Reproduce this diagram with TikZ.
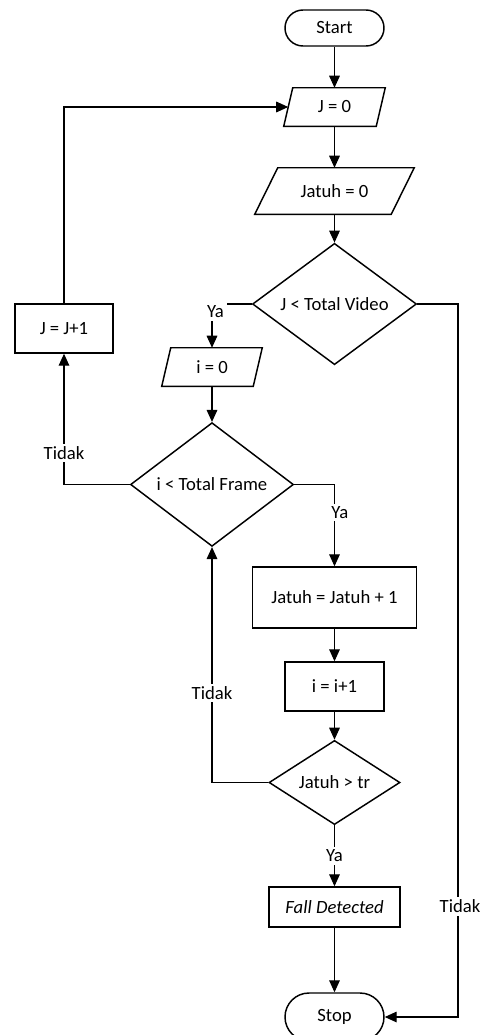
\documentclass[tikz,border=0pt]{standalone}
\usepackage{fontspec}
\setmainfont{Carlito}
\usetikzlibrary{arrows.meta,shapes.geometric}

\begin{document}
\begin{tikzpicture}[
    x=0.75pt, y=-0.75pt,
    font=\fontsize{14}{16}\selectfont,
    arrow/.style={line width=0.8pt,-{Triangle[length=9pt,width=8pt]}},
    outline/.style={draw, line width=1.1pt},
    term/.style={outline, rounded corners=13.5pt, minimum width=74.25pt,
      minimum height=27pt, inner sep=0pt},
    proc/.style={outline, inner sep=0pt},
    io/.style={inner sep=0pt},
    decision/.style={diamond, outline, inner sep=0pt},
    lab/.style={fill=white, inner sep=2pt}
  ]

  \useasboundingbox (0,0) rectangle (485,1035);

  % Column centers
  \def\xMain{334.5}
  \def\xInner{212}
  \def\xLeft{64}
  \def\xRight{458}

  % Row anchors
  \def\yStart{28}
  \def\yJ{107}
  \def\yJatuh{191}
  \def\yVideo{304}
  \def\yJinc{328.5}
  \def\yI{367}
  \def\yFrame{484.5}
  \def\yInc{597.5}
  \def\yIinc{686.5}
  \def\yThr{782.5}
  \def\yFall{907}
  \def\yStop{1017}

  % =====================================================
  % NODES
  % =====================================================
  \node[term] (start) at (\xMain,\yStart) {Start};

  \node[io, minimum width=69pt, minimum height=28.5pt] (J0) at (\xMain,\yJ) {J = 0};
  \node[io, minimum width=102pt, minimum height=34.5pt] (jatuh0) at (\xMain,\yJatuh) {Jatuh = 0};

  \node[decision, minimum width=123pt, minimum height=73.5pt] (vid) at (\xMain,\yVideo) {J < Total Video};

  \node[proc, minimum width=73.5pt, minimum height=36.75pt] (jinc) at (\xLeft,\yJinc) {J = J+1};

  \node[io, minimum width=68.25pt, minimum height=28.5pt] (i0) at (\xInner,\yI) {i = 0};

  \node[decision, minimum width=122.25pt, minimum height=72.75pt] (frame) at (\xInner,\yFrame) {i < Total Frame};

  \node[proc, minimum width=123pt, minimum height=45.75pt] (inc) at (\xMain,\yInc) {Jatuh = Jatuh + 1};
  \node[proc, minimum width=74.25pt, minimum height=36.75pt] (iinc) at (\xMain,\yIinc) {i = i+1};

  \node[decision, minimum width=98.25pt, minimum height=57.75pt] (thr) at (\xMain,\yThr) {Jatuh > tr};

  \node[proc, minimum width=98.25pt, minimum height=30pt] (fall) at (\xMain,\yFall) {\textit{Fall Detected}};

  \node[term, minimum height=36pt, rounded corners=18pt] (stop) at (\xMain,\yStop) {Stop};

  \coordinate (rc) at (\xRight,\yVideo);

  % parallelogram outlines
  \foreach \n/\s in {J0/4.5,jatuh0/11.5,i0/4.5}{
    \draw[outline] ([xshift=\s*0.75pt]\n.north west) -- ([xshift=\s*0.75pt]\n.north east)
    -- ([xshift=-\s*0.75pt]\n.south east) -- ([xshift=-\s*0.75pt]\n.south west) -- cycle;
  }

  % =====================================================
  % ARROWS
  % =====================================================
  \draw[arrow] (start) -- (J0);
  \draw[arrow] (J0) -- (jatuh0);
  \draw[arrow] (jatuh0) -- (vid);

  \draw[arrow] (vid.west) -| node[lab, pos=0.5, xshift=2.6pt, yshift=-6pt] {Ya} (i0.north);
  \draw[arrow] (i0) -- (frame);

  \draw[arrow] (frame.west) -| node[lab, pos=0.62] {Tidak} (jinc.south);
  \draw[arrow] (jinc.north) |- (J0.west);

  \draw[arrow] (frame.east) -| node[lab, pos=0.67, xshift=4pt] {Ya} (inc.north);
  \draw[arrow] (inc) -- (iinc);
  \draw[arrow] (iinc) -- (thr);

  \draw[arrow] (thr.west) -| node[lab, pos=0.69] {Tidak} (frame.south);
  \draw[arrow] (thr) -- node[lab] {Ya} (fall);
  \draw[arrow] (fall) -- (stop);

  \draw[arrow] (vid.east) -- (rc) -- node[lab, pos=0.845, xshift=1.5pt] {Tidak} (rc |- stop.east)
  -- (stop.east);

\end{tikzpicture}
\end{document}
